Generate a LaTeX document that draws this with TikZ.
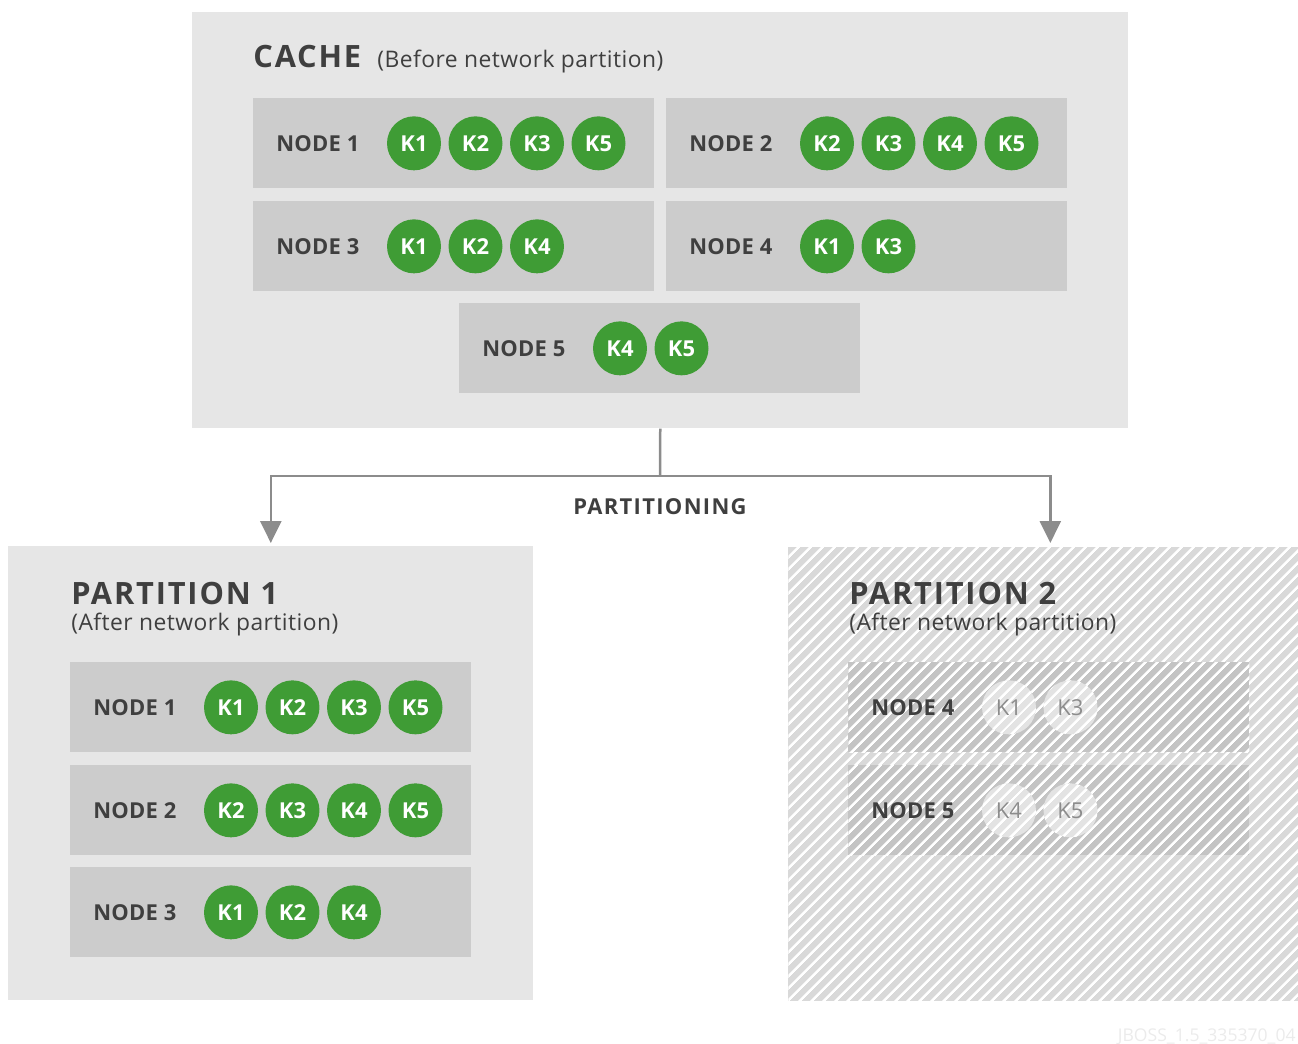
\documentclass[tikz,border=0pt]{standalone}
\usepackage{fontspec}
\setmainfont{Open Sans}
\usetikzlibrary{arrows.meta,calc,positioning,patterns.meta}

\definecolor{boxgray}{HTML}{E6E6E6}
\definecolor{rowgray}{HTML}{CCCCCC}
\definecolor{keygreen}{HTML}{3F9C35}
\definecolor{inkgray}{HTML}{3F3F3F}
\definecolor{linegray}{HTML}{8C8C8C}

\tikzset{
  panel/.style={fill=boxgray, anchor=north west, inner sep=0pt, minimum height=9.08cm},
  hatch/.style={preaction={fill=#1}, pattern={Lines[angle=45,distance=0.18cm,line width=0.055cm]},
    pattern color=white},
  liverow/.style={fill=rowgray, anchor=north west, inner sep=0pt, minimum width=8.02cm, minimum height=1.8cm},
  lostrow/.style={liverow, hatch=black!23},
  rowlabel/.style={anchor=west, inner sep=0pt, text=inkgray,
    font=\bfseries\fontsize{12.5}{14}\selectfont\addfontfeatures{LetterSpace=1}},
  livekey/.style={circle, fill=keygreen, minimum size=1.08cm, inner sep=0pt, text=white,
    font=\bfseries\fontsize{12.5}{14}\selectfont},
  lostkey/.style={circle, hatch=black!11, minimum size=1.08cm, inner sep=0pt,
    text=black!45, font=\fontsize{12.5}{14}\selectfont},
  bigtitle/.style={anchor=base west, inner sep=0pt, text=inkgray,
    font=\bfseries\fontsize{17.5}{20}\selectfont\addfontfeatures{LetterSpace=6}},
  subtitle/.style={anchor=base west, inner sep=0pt, text=inkgray,
    font=\fontsize{13}{15}\selectfont\addfontfeatures{LetterSpace=2}},
  flow/.style={draw=linegray, line width=0.05cm},
}

% one row of a cache: box, label, keys
\newcommand{\keyrow}[6]{%
  \node[#6row] (#1) at (#2,#3) {};
  \node[rowlabel] (#1-lab) at ($(#1.west)+(23,0)$) {#4};
  \foreach \k [count=\i] in {#5}
    \node[#6key] (#1-\k) at ($(#1.west)+({161+61.5*(\i-1)},0)$) {\k};
}

\begin{document}
\begin{tikzpicture}[x=0.02cm,y=-0.02cm]
  \useasboundingbox (0,0) rectangle (1298,1044);

  % cache before the split
  \node[panel, minimum width=18.72cm, minimum height=8.32cm] (cache) at (192,12) {};
  \node[bigtitle] (cache-t) at (253,68) {CACHE};
  \node[subtitle] (cache-s) at (377,68) {(Before network partition)};
  \keyrow{c1}{253}{98}{NODE 1}{K1,K2,K3,K5}{live}
  \keyrow{c2}{666}{98}{NODE 2}{K2,K3,K4,K5}{live}
  \keyrow{c3}{253}{201}{NODE 3}{K1,K2,K4}{live}
  \keyrow{c4}{666}{201}{NODE 4}{K1,K3}{live}
  \keyrow{c5}{459}{303}{NODE 5}{K4,K5}{live}

  % partition 1
  \node[panel, minimum width=10.5cm] (part1) at (8,546) {};
  \node[bigtitle] (p1-t) at (71,604) {PARTITION 1};
  \node[subtitle] (p1-s) at (71,630) {(After network partition)};
  \keyrow{a1}{70}{662}{NODE 1}{K1,K2,K3,K5}{live}
  \keyrow{a2}{70}{765}{NODE 2}{K2,K3,K4,K5}{live}
  \keyrow{a3}{70}{867}{NODE 3}{K1,K2,K4}{live}

  % partition 2 (lost)
  \node[panel, hatch=black!15, minimum width=10.22cm] (part2) at (787,546) {};
  \node[bigtitle] (p2-t) at (849,604) {PARTITION 2};
  \node[subtitle] (p2-s) at (849,630) {(After network partition)};
  \keyrow{b4}{848}{662}{NODE 4}{K1,K3}{lost}
  \keyrow{b5}{848}{765}{NODE 5}{K4,K5}{lost}

  % partitioning arrows
  \coordinate (split) at (660,476);
  \draw[flow] (cache.south) -- (split);
  \draw[flow, -{Triangle[length=0.44cm,width=0.42cm]}, shorten >=0.06cm] (split) -| (part1.north);
  \draw[flow, -{Triangle[length=0.44cm,width=0.42cm]}, shorten >=0.06cm] (split) -| ($(part2.north)+(6.5,0)$);
  \node[anchor=base, text=inkgray, font=\bfseries\fontsize{12.5}{14}\selectfont\addfontfeatures{LetterSpace=6}]
    (split-lab) at (660,514) {PARTITIONING};

  \node[anchor=base east, inner sep=0pt, text=black!8, font=\fontsize{10}{12}\selectfont] (mark) at (1296,1041) {JBOSS\_1.5\_335370\_04};
\end{tikzpicture}
\end{document}
